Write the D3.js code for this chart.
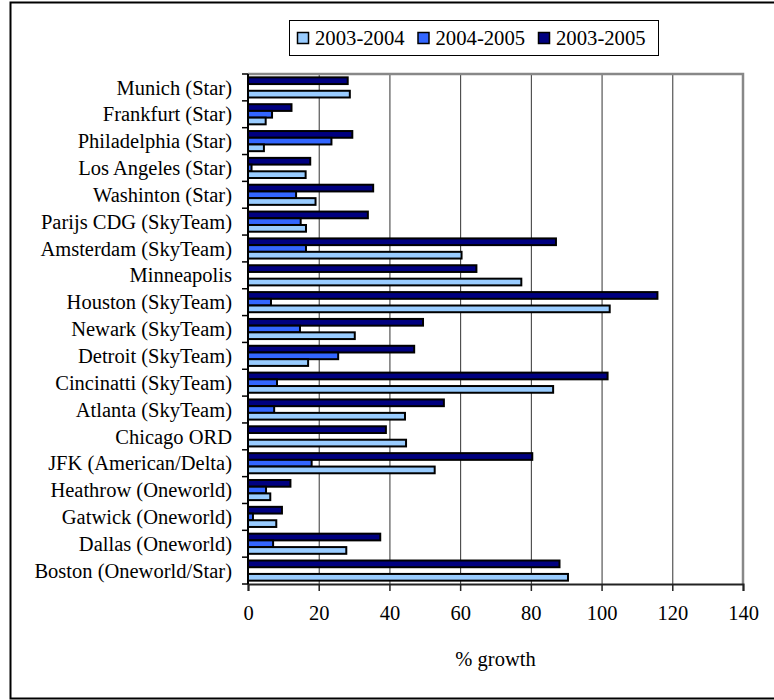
<!DOCTYPE html>
<html>
<head>
<script src="https://d3js.org/d3.v7.min.js"></script>
<title>Airport growth</title>
<style>
  body { margin: 0; background: #fff; }
  svg text { font-family: "Times New Roman", "Liberation Serif", Times, serif; fill: #000; }
</style>
</head>
<body>
<div id="chart"></div>
<script>
// categories, top to bottom
var airports = ["Munich (Star)", "Frankfurt (Star)", "Philadelphia (Star)", "Los Angeles (Star)",
  "Washinton (Star)", "Parijs CDG (SkyTeam)", "Amsterdam (SkyTeam)", "Minneapolis",
  "Houston (SkyTeam)", "Newark (SkyTeam)", "Detroit (SkyTeam)", "Cincinatti (SkyTeam)",
  "Atlanta (SkyTeam)", "Chicago ORD", "JFK (American/Delta)", "Heathrow (Oneworld)",
  "Gatwick (Oneworld)", "Dallas (Oneworld)", "Boston (Oneworld/Star)"];

// series values (% growth)
var g0304 = [28.8, 5.0, 4.5, 16.3, 19.1, 16.4, 60.4, 77.3, 102.3, 30.2, 17.0, 86.3, 44.4, 44.7, 52.8, 6.3, 8.0, 27.8, 90.5];
var g0405 = [0, 6.8, 23.6, 1.0, 13.6, 14.9, 16.4, 0, 6.5, 14.7, 25.5, 8.2, 7.4, 0, 18.0, 5.1, 1.4, 7.1, 0];
var g0305 = [28.2, 12.3, 29.5, 17.6, 35.4, 33.9, 87.1, 64.6, 115.8, 49.5, 47.0, 101.7, 55.4, 39.0, 80.4, 12.0, 9.6, 37.4, 88.1];

var seriesNames = ["2003-2004", "2004-2005", "2003-2005"];
var seriesColors = ["#99CCFF", "#3366FF", "#000080"];
var xTicks = [0, 20, 40, 60, 80, 100, 120, 140];

function draw() {
  var W = 774, H = 700;
  var pLeft = 248, pRight = 743, pTop = 74, pBottom = 584;

  var svg = d3.select("#chart").append("svg")
    .attr("width", W).attr("height", H);

  // outer frame (runs off the right edge)
  svg.append("rect")
    .attr("x", 10.5).attr("y", 2.5)
    .attr("width", 800).attr("height", 696)
    .attr("fill", "none").attr("stroke", "#000").attr("stroke-width", 2);

  var x = d3.scaleLinear().domain([0, 140]).range([pLeft, pRight]);

  var y0 = d3.scaleBand().domain(airports).range([pTop, pBottom])
    .paddingInner(0.25).paddingOuter(0.125);

  // dark bar on top, light at the bottom
  var barOrder = [2, 1, 0];
  var y1 = d3.scaleBand().domain(barOrder).range([0, y0.bandwidth()]);

  var rows = airports.map(function (a, i) {
    return { name: a, vals: [g0304[i], g0405[i], g0305[i]] };
  });

  // gridlines
  svg.append("g").selectAll("line").data(xTicks.slice(1))
    .enter().append("line")
    .attr("x1", function (d) { return x(d) + 0.5; })
    .attr("x2", function (d) { return x(d) + 0.5; })
    .attr("y1", pTop).attr("y2", pBottom)
    .attr("stroke", "#333").attr("stroke-width", 1);

  // plot frame top and right (grey)
  svg.append("path")
    .attr("d", "M" + pLeft + "," + pTop + "H" + pRight + "V" + pBottom)
    .attr("fill", "none").attr("stroke", "#888").attr("stroke-width", 2.5);

  // bars
  var groups = svg.append("g").selectAll("g").data(rows)
    .enter().append("g")
    .attr("transform", function (d) { return "translate(0," + y0(d.name) + ")"; });

  groups.selectAll("rect")
    .data(function (d) {
      return barOrder.map(function (s) { return { s: s, v: d.vals[s] }; })
        .filter(function (b) { return b.v > 0; });
    })
    .enter().append("rect")
    .attr("x", x(0))
    .attr("y", function (d) { return y1(d.s); })
    .attr("width", function (d) { return x(d.v) - x(0); })
    .attr("height", y1.bandwidth())
    .attr("fill", function (d) { return seriesColors[d.s]; })
    .attr("stroke", "#000").attr("stroke-width", 2);

  // x axis
  var xAxis = d3.axisBottom(x).tickValues(xTicks).tickSize(7).tickPadding(14);
  var gx = svg.append("g").attr("transform", "translate(0," + pBottom + ")").call(xAxis);
  gx.attr("font-family", null);
  gx.select(".domain").attr("stroke", "#222").attr("stroke-width", 2);
  gx.selectAll(".tick line").attr("stroke", "#222").attr("stroke-width", 1.5);
  gx.selectAll("text").style("font-size", "20.5px").attr("fill", "#000");

  // y axis: line + ticks between categories
  var step = y0.step();
  var boundaries = d3.range(airports.length + 1).map(function (i) { return pTop + i * step; });
  svg.append("line")
    .attr("x1", pLeft).attr("x2", pLeft).attr("y1", pTop).attr("y2", pBottom)
    .attr("stroke", "#000").attr("stroke-width", 2);
  svg.append("g").selectAll("line").data(boundaries)
    .enter().append("line")
    .attr("x1", pLeft - 6).attr("x2", pLeft)
    .attr("y1", function (d) { return d; }).attr("y2", function (d) { return d; })
    .attr("stroke", "#000").attr("stroke-width", 1.5);

  svg.append("g").selectAll("text").data(airports)
    .enter().append("text")
    .attr("x", 232)
    .attr("y", function (d) { return y0(d) + y0.bandwidth() / 2; })
    .attr("dy", "0.35em")
    .attr("text-anchor", "end")
    .style("font-size", "20.5px")
    .text(function (d) { return d; });

  // axis title
  svg.append("text")
    .attr("x", (pLeft + pRight) / 2).attr("y", 666)
    .attr("text-anchor", "middle")
    .style("font-size", "20.5px")
    .text("% growth");

  // legend
  var lg = svg.append("g");
  lg.append("rect")
    .attr("x", 289.5).attr("y", 20.5).attr("width", 369).attr("height", 35)
    .attr("fill", "#fff").attr("stroke", "#000").attr("stroke-width", 1);
  var items = lg.selectAll("g.item").data(seriesNames)
    .enter().append("g")
    .attr("transform", function (d, i) { return "translate(" + (297 + i * 120.5) + ",32)"; });
  items.append("rect")
    .attr("x", 0.5).attr("y", 0.5).attr("width", 11).attr("height", 11)
    .attr("fill", function (d, i) { return seriesColors[i]; })
    .attr("stroke", "#000").attr("stroke-width", 1.5);
  items.append("text")
    .attr("x", 18).attr("y", 6).attr("dy", "0.35em")
    .style("font-size", "20.7px")
    .text(function (d) { return d; });
}

draw();
</script>
</body>
</html>
